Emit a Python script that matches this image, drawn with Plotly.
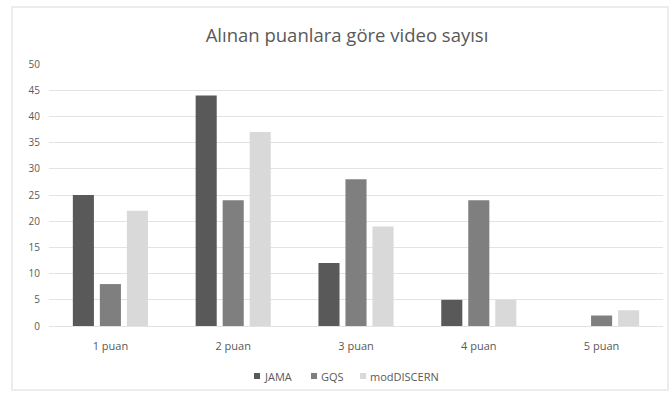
import plotly.graph_objects as go

categories = ["1 puan", "2 puan", "3 puan", "4 puan", "5 puan"]
jama = [25, 44, 12, 5, 0]
gqs = [8, 24, 28, 24, 2]
mod_discern = [22, 37, 19, 5, 3]

series = [
    ("JAMA", jama, "#595959"),
    ("GQS", gqs, "#7f7f7f"),
    ("modDISCERN", mod_discern, "#d9d9d9"),
]

fig = go.Figure()
for name, vals, color in series:
    fig.add_trace(go.Bar(x=categories, y=vals, name=name, marker_color=color,
                         marker_line_width=0, showlegend=False))

font_family = "Open Sans, sans-serif"
text_color = "#595959"

# plot area in pixels (left, right, top, bottom)
PL, PR, PT, PB = 49, 663, 64, 326


def px_x(px):
    return (px - PL) / (PR - PL)


def px_y(py):
    return (PB - py) / (PB - PT)


fig.update_layout(
    width=670, height=396,
    margin=dict(l=PL, r=670 - PR, t=PT, b=396 - PB),
    paper_bgcolor="white", plot_bgcolor="white",
    barmode="group", bargap=0.34, bargroupgap=0.22,
    title=dict(text="Alınan puanlara göre video sayısı", x=347 / 670, xanchor="center",
               y=1 - 36 / 396, yanchor="middle",
               font=dict(family=font_family, size=18.5, color=text_color)),
    font=dict(family=font_family, color=text_color),
    showlegend=False,
    xaxis=dict(showgrid=False, showline=False, ticks="", ticklabelstandoff=12,
               tickfont=dict(size=11, color=text_color)),
    yaxis=dict(range=[0, 50], dtick=5, showgrid=True, gridcolor="#e3e3e3",
               gridwidth=1, zeroline=True, zerolinecolor="#e3e3e3", zerolinewidth=1,
               showline=False, ticks="", ticklabelstandoff=8,
               tickfont=dict(size=10, color=text_color)),
)

# legend: small square keys followed by series names
legend_keys_px = [254, 311, 360]
legend_y_px = 376
for (name, _vals, color), kx in zip(series, legend_keys_px):
    fig.add_shape(type="rect", xref="paper", yref="paper",
                  x0=px_x(kx), x1=px_x(kx + 6),
                  y0=px_y(legend_y_px + 3), y1=px_y(legend_y_px - 3),
                  fillcolor=color, line=dict(width=0))
    fig.add_annotation(text=name, xref="paper", yref="paper",
                       x=px_x(kx + 8), y=px_y(legend_y_px), xanchor="left",
                       yanchor="middle", showarrow=False,
                       font=dict(family=font_family, size=11, color=text_color))

# chart frame
fig.add_shape(type="rect", xref="paper", yref="paper",
              x0=px_x(12), x1=px_x(668), y0=px_y(390), y1=px_y(7),
              line=dict(color="#e6e6e6", width=1.5), layer="below")

fig.write_html("out.html")
